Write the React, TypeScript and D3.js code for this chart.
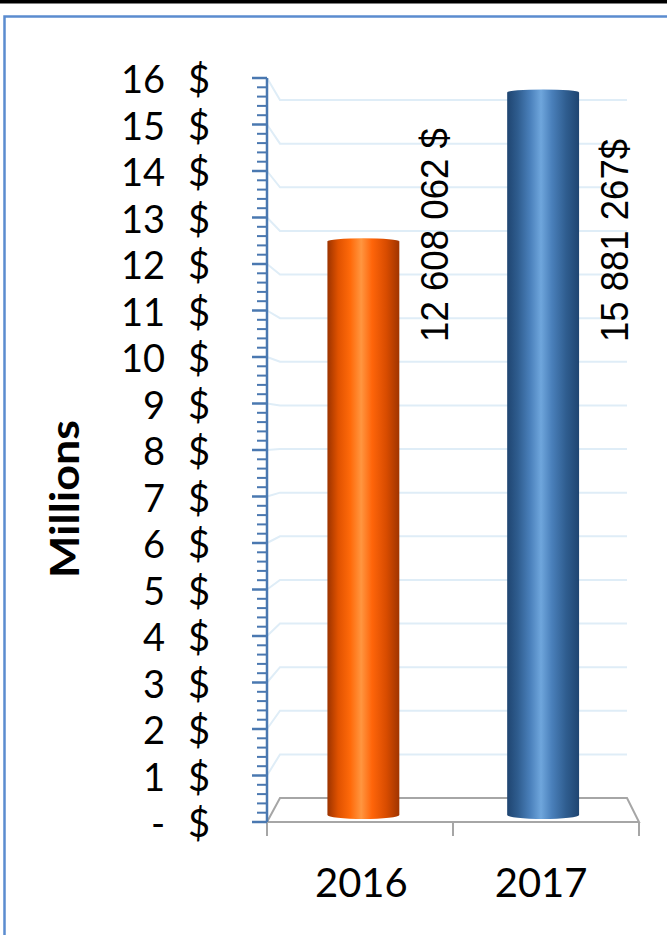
import React from "react";
import * as d3 from "d3";

const categories = ["2016", "2017"];
const values = [12608062, 15881267];
const valueLabels = ["12 608 062 $", "15 881 267$"];
const yTicks = d3.range(0, 17);
const yTickLabels = yTicks.map((t) => (t === 0 ? "-" : String(t)));
const yAxisTitle = "Millions";

const W = 667;
const H = 935;

export default function App() {
  // front plane (axis) and back wall scales
  const yFront = d3.scaleLinear().domain([0, 16]).range([822, 78]);
  const yBack = d3.scaleLinear().domain([0, 16]).range([798, 100]);
  const yBar = d3.scaleLinear().domain([0, 16]).range([815, 87]);
  const xFront = d3.scaleBand().domain(categories).range([267, 639]);
  const xBack = d3.scaleBand().domain(categories).range([280, 627]);
  const xBar = d3.scaleBand().domain(categories).range([273.5, 633]);
  const barW = xBar.bandwidth() * 0.4;
  const minor = d3.range(0, 16.001, 0.2);

  const axisX = xFront.range()[0];
  const backL = xBack.range()[0];
  const backR = xBack.range()[1];
  const frontR = xFront.range()[1];
  const axisColor = "#4a78b0";

  const grads = [
    { id: "g0", stops: ["#9c3300", "#e05200", "#ff6a0a", "#ff9640", "#ff650a", "#d84c00", "#a03400"] },
    { id: "g1", stops: ["#1f4571", "#2f5d8f", "#4a80bb", "#6fa6dc", "#4a80bb", "#2f5d8f", "#1f4571"] },
  ];
  const offs = [0, 0.15, 0.32, 0.47, 0.62, 0.82, 1];

  return (
    <svg width={W} height={H} style={{ position: "absolute", left: 0, top: 0, background: "#fff" }}>
      <defs>
        {grads.map((g) => (
          <linearGradient key={g.id} id={g.id} x1="0" x2="1" y1="0" y2="0">
            {g.stops.map((c, i) => (
              <stop key={i} offset={offs[i]} stopColor={c} />
            ))}
          </linearGradient>
        ))}
      </defs>
      <rect x={0} y={0} width={W} height={H} fill="#fff" />
      {/* top black band */}
      <rect x={0} y={0} width={W} height={3.5} fill="#000" />
      {/* blue frame */}
      <path d={`M4.5,${H} L4.5,16.5 L${W},16.5`} fill="none" stroke="#5b8ccf" strokeWidth={2.5} />

      {/* gridlines */}
      {yTicks.slice(1).map((t) => (
        <path
          key={t}
          d={`M${axisX},${yFront(t)} L${backL},${yBack(t)} L${backR},${yBack(t)}`}
          fill="none"
          stroke="#dfedf7"
          strokeWidth={2}
        />
      ))}

      {/* floor */}
      <path
        d={`M${axisX},${yFront(0)} L${backL},${yBack(0)} L${backR},${yBack(0)} L${frontR},${yFront(0)} Z`}
        fill="none"
        stroke="#a6a6a6"
        strokeWidth={2}
      />
      {/* x ticks */}
      {[...categories.map((c) => xFront(c) as number), frontR].map((x, i) => (
        <line key={i} x1={x} x2={x} y1={yFront(0)} y2={yFront(0) + 14} stroke="#a6a6a6" strokeWidth={2} />
      ))}

      {/* bars */}
      {categories.map((c, i) => {
        const cx = (xBar(c) as number) + xBar.bandwidth() / 2;
        const x0 = cx - barW / 2;
        const yt = yBar(values[i] / 1e6);
        const yb = yBar(0);
        const rx = barW / 2;
        const d = `M${x0},${yt} L${x0},${yb} A${rx},4 0 0 0 ${x0 + barW},${yb} L${x0 + barW},${yt} Z`;
        return (
          <g key={c}>
            <path d={d} fill={`url(#g${i})`} />
            <ellipse cx={cx} cy={yt} rx={rx} ry={3} fill={`url(#g${i})`} />
          </g>
        );
      })}

      {/* value labels */}
      {categories.map((c, i) => {
        const cx = (xBar(c) as number) + xBar.bandwidth() / 2;
        const lx = cx + barW / 2 + 36;
        const ly = 342;
        return (
          <text
            key={c}
            transform={`translate(${lx + 13},${ly}) rotate(-90)`}
            fontFamily="'Liberation Sans', Arial, sans-serif"
            fontSize={38}
            fill="#000"
            textLength={i === 0 ? 214 : 203}
            lengthAdjust="spacingAndGlyphs"
          >
            {valueLabels[i]}
          </text>
        );
      })}

      {/* y axis */}
      <line x1={axisX} x2={axisX} y1={yFront(16)} y2={yFront(0)} stroke={axisColor} strokeWidth={2.5} />
      {minor.map((t, i) => {
        const major = i % 5 === 0;
        return (
          <line
            key={i}
            x1={axisX - (major ? 15 : 10)}
            x2={axisX}
            y1={yFront(t)}
            y2={yFront(t)}
            stroke={axisColor}
            strokeWidth={major ? 2.5 : 2}
          />
        );
      })}
      {yTicks.map((t, i) => (
        <g key={t} fontFamily="Lato, 'Open Sans', sans-serif" fontSize={38} fill="#000">
          <text x={165} y={yFront(t) + 15} textAnchor="end">
            {yTickLabels[i]}
          </text>
          <text x={199} y={yFront(t) + 15} textAnchor="middle">
            $
          </text>
        </g>
      ))}

      {/* y axis title */}
      <text
        transform={`translate(79,499) rotate(-90)`}
        textAnchor="middle"
        fontFamily="Lato, 'Open Sans', sans-serif"
        fontWeight="bold"
        fontSize={41}
        textLength={158}
        lengthAdjust="spacingAndGlyphs"
      >
        {yAxisTitle}
      </text>

      {/* x labels */}
      {categories.map((c) => (
        <text
          key={c}
          x={(xBar(c) as number) + xBar.bandwidth() / 2 - 2}
          y={897}
          textAnchor="middle"
          fontFamily="Lato, 'Open Sans', sans-serif"
          fontSize={40}
        >
          {c}
        </text>
      ))}
    </svg>
  );
}
